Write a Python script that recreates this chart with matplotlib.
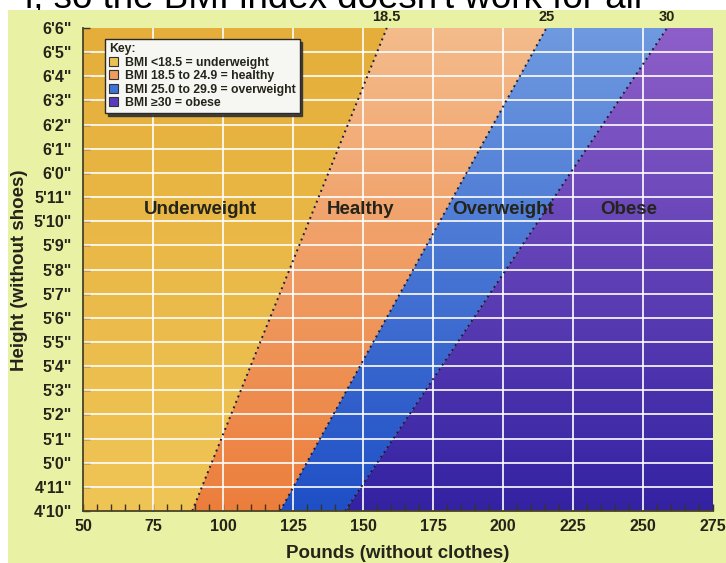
import numpy as np
import matplotlib
matplotlib.use('Agg')
import matplotlib.pyplot as plt
from matplotlib.patches import Polygon, Rectangle, Patch
from matplotlib.colors import to_rgb
from matplotlib.ticker import MultipleLocator

plt.rcParams['font.family'] = ['Liberation Sans', 'DejaVu Sans']

W, H = 726, 563  # taille en pixels

# donnees
POIDS_MIN, POIDS_MAX = 50, 275
TAILLE_MIN, TAILLE_MAX = 58, 78   # pouces
poids_ticks = [50, 75, 100, 125, 150, 175, 200, 225, 250, 275]
taille_ticks = list(range(58, 79))
taille_labels = ["4'10\"", "4'11\"", "5'0\"", "5'1\"", "5'2\"", "5'3\"", "5'4\"",
                 "5'5\"", "5'6\"", "5'7\"", "5'8\"", "5'9\"", "5'10\"", "5'11\"",
                 "6'0\"", "6'1\"", "6'2\"", "6'3\"", "6'4\"", "6'5\"", "6'6\""]

# limites IMC : poids a 4'10" (bas) et a 6'6" (haut)
imc_labels = ['18.5', '25', '30']
limite_bas = [89.0, 120.4, 143.6]
limite_haut = [158.5, 215.5, 258.6]

zones = ['Underweight', 'Healthy', 'Overweight', 'Obese']
zones_x = [92, 149, 200, 245]
zones_y = [70.5, 70.5, 70.5, 70.5]
couleur_haut = ['#e5ae3a', '#f4bb8b', '#6f9ae0', '#8e5fc9']
couleur_bas = ['#efc556', '#ec7e3c', '#1f4fc6', '#3322a2']
couleur_cle = ['#ecc152', '#ef9c5e', '#3d72d8', '#5a3bbe']
cle_labels = ['BMI <18.5 = underweight', 'BMI 18.5 to 24.9 = healthy',
              'BMI 25.0 to 29.9 = overweight', 'BMI \u226530 = obese']

TEXTE = '#24241a'

fig = plt.figure(figsize=(W / 100, H / 100), dpi=100, facecolor='white')

# fond jaune-vert de l'image
fig.patches.append(Rectangle((8 / W, 0), 1, 1 - 10 / H, transform=fig.transFigure,
                             facecolor='#e8f1a4', edgecolor='none', zorder=-10))

# texte coupe en haut (sous le fond)
fig.text(642 / W, 1 - 8 / H, "l, so the BMI index doesn't work for all",
         ha='right', va='baseline', fontsize=26.5, color='black', zorder=-20)

ax = fig.add_axes([83 / W, 1 - 511 / H, 630 / W, 483 / H])
ax.set_xlim(POIDS_MIN, POIDS_MAX)
ax.set_ylim(TAILLE_MIN, TAILLE_MAX)
ax.patch.set_alpha(0)

# bords des zones
bords_bas = [POIDS_MIN] + limite_bas + [POIDS_MAX]
bords_haut = [POIDS_MIN] + limite_haut + [POIDS_MAX]

for i in range(len(zones)):
    poly = Polygon([(bords_bas[i], TAILLE_MIN), (bords_bas[i + 1], TAILLE_MIN),
                    (bords_haut[i + 1], TAILLE_MAX), (bords_haut[i], TAILLE_MAX)],
                   closed=True, facecolor='none', edgecolor='none')
    ax.add_patch(poly)
    t = np.linspace(0, 1, 256)[:, None]
    grad = (1 - t) * np.array(to_rgb(couleur_bas[i])) + t * np.array(to_rgb(couleur_haut[i]))
    im = ax.imshow(grad[:, None, :], extent=[POIDS_MIN, POIDS_MAX, TAILLE_MIN, TAILLE_MAX],
                   origin='lower', aspect='auto', interpolation='bilinear', zorder=1)
    im.set_clip_path(poly)

# grille blanche
ax.vlines(poids_ticks[1:-1], TAILLE_MIN, TAILLE_MAX, color='white', lw=1.4, alpha=0.85, zorder=2)
ax.hlines(taille_ticks[1:-1], POIDS_MIN, POIDS_MAX, color='white', lw=1.4, alpha=0.85, zorder=2)

# lignes pointillees
for i in range(len(imc_labels)):
    ax.plot([limite_bas[i], limite_haut[i]], [TAILLE_MIN, TAILLE_MAX],
            color='#1c1c3a', lw=1.4, ls=(0, (1, 2)), zorder=3, clip_on=False)
    ax.annotate(imc_labels[i], (limite_haut[i], TAILLE_MAX), xytext=(0, 3),
                textcoords='offset points', ha='center', va='bottom',
                fontsize=10.5, fontweight='bold', color=TEXTE, annotation_clip=False)

for i in range(len(zones)):
    ax.text(zones_x[i], zones_y[i], zones[i], ha='center', va='center',
            fontsize=13.5, fontweight='bold', color=TEXTE, zorder=4)

# axes
ax.set_xticks(poids_ticks)
ax.xaxis.set_minor_locator(MultipleLocator(5))
ax.set_yticks(taille_ticks)
ax.set_yticklabels(taille_labels)
ax.tick_params(axis='x', which='both', direction='in', length=5, width=1, color='#3a3322',
               labelsize=11.5, labelcolor=TEXTE, pad=6)
ax.tick_params(axis='y', direction='in', length=5, width=1, color='#3a3322',
               labelsize=11.5, labelcolor=TEXTE, pad=8)
for lab in ax.get_xticklabels() + ax.get_yticklabels():
    lab.set_fontweight('bold')
for s in ['top', 'right']:
    ax.spines[s].set_visible(False)
for s in ['left', 'bottom']:
    ax.spines[s].set_color('#4b4326')
    ax.spines[s].set_linewidth(1.3)
    ax.spines[s].set_zorder(5)

fig.text(398 / W, 1 - 553 / H, 'Pounds (without clothes)', ha='center', va='center',
         fontsize=13.5, fontweight='bold', color=TEXTE)
fig.text(20 / W, 1 - 270 / H, 'Height (without shoes)', ha='center', va='center',
         rotation=90, fontsize=13.5, fontweight='bold', color=TEXTE)

# cle
poignees = [Patch(facecolor=c, edgecolor='#333333', lw=0.8) for c in couleur_cle]
leg = ax.legend(poignees, cle_labels, title='Key:', loc='upper left',
                bbox_to_anchor=(105 / W, 1 - 39 / H), bbox_transform=fig.transFigure,
                fontsize=8.8, title_fontsize=8.8, alignment='left',
                frameon=True, fancybox=False, shadow={'color': '#333333', 'alpha': 0.9},
                handlelength=0.75, handleheight=0.75, handletextpad=0.5,
                labelspacing=0.12, borderpad=0.35, borderaxespad=0)
leg.get_frame().set_edgecolor('#2a2a2a')
leg.get_frame().set_facecolor('#f6f6f2')
leg.get_frame().set_linewidth(1.0)
leg.set_zorder(6)
for txt in leg.get_texts():
    txt.set_fontweight('bold')
    txt.set_color(TEXTE)
leg.get_title().set_fontweight('bold')
leg.get_title().set_color(TEXTE)

fig.savefig('out.png', dpi=100)
